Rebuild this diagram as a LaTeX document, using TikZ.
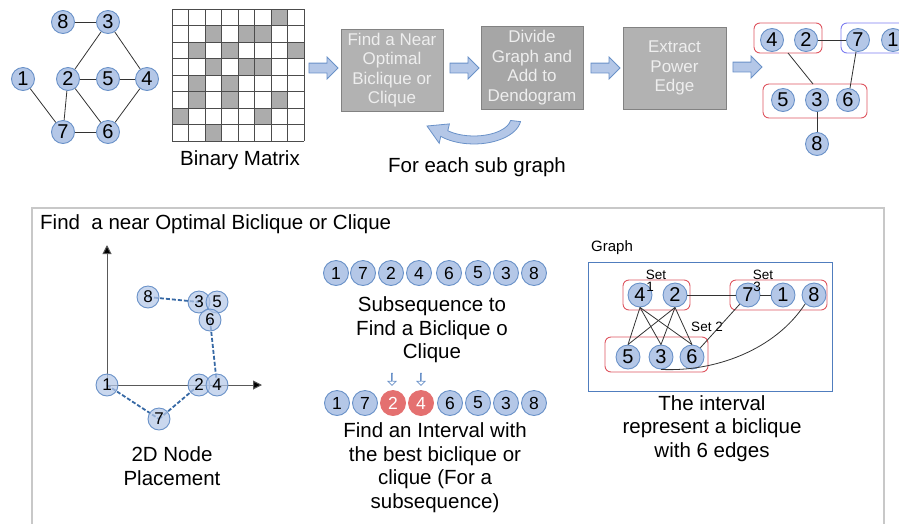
\documentclass[tikz,border=0pt]{standalone}
\usepackage{fontspec}
\setmainfont{Liberation Sans}
\usetikzlibrary{arrows.meta,shapes.arrows}

\definecolor{nodefill}{RGB}{180,199,231}
\definecolor{nodeline}{RGB}{105,145,200}
\definecolor{boxgray}{RGB}{178,178,178}
\definecolor{boxgraydk}{RGB}{166,166,166}
\definecolor{boxedge}{RGB}{130,130,130}
\definecolor{boxtext}{RGB}{238,238,238}
\definecolor{setred}{RGB}{222,85,95}
\definecolor{setblue}{RGB}{125,125,240}
\definecolor{dashblue}{RGB}{55,105,165}
\definecolor{hired}{RGB}{228,112,112}
\definecolor{framegray}{RGB}{200,200,200}
\definecolor{graphblue}{RGB}{80,125,190}
\definecolor{cellgray}{RGB}{172,172,172}

\tikzset{
  vtx/.style={circle, draw=nodeline, fill=nodefill, line width=0.9pt,
    minimum size=23pt, inner sep=0pt, font=\fontsize{20}{20}\selectfont},
  seqv/.style={vtx, minimum size=25pt, font=\fontsize{17.5}{17.5}\selectfont},
  hiv/.style={seqv, draw=hired, fill=hired, text=white},
  gv/.style={vtx, minimum size=24pt},
  plv/.style={vtx, minimum size=22pt, fill opacity=0.72, text opacity=1,
    font=\fontsize{17}{17}\selectfont},
  edge/.style={draw=black!80, line width=0.8pt},
  pledge/.style={draw=dashblue, line width=1.8pt, dash pattern=on 4pt off 2pt},
  stepbox/.style={rectangle, draw=boxedge, line width=0.9pt, fill=boxgray,
    text=boxtext, align=center, inner sep=0pt,
    font=\fontsize{17}{19.5}\selectfont},
  blockarr/.style={single arrow, draw=nodeline, fill=nodefill, line width=0.8pt,
    minimum height=29pt, minimum width=20pt, inner xsep=0pt, inner ysep=4.5pt,
    single arrow head extend=6pt},
  downarr/.style={single arrow, draw=nodeline, fill=white, line width=0.7pt,
    minimum height=12pt, minimum width=8pt, inner xsep=0pt, inner ysep=1.5pt,
    single arrow head extend=2pt, shape border rotate=270},
  setbox/.style={rectangle, rounded corners=6pt, draw=setred, line width=0.9pt},
  setboxb/.style={rectangle, rounded corners=6pt, draw=setblue, line width=0.9pt},
  caption/.style={align=center, font=\fontsize{20.5}{23.5}\selectfont},
  small/.style={font=\fontsize{13.5}{13.5}\selectfont, inner sep=0pt},
}

\begin{document}
\begin{tikzpicture}[x=1pt,y=-1pt]
\useasboundingbox (0,0) rectangle (899,523);

% ---------- input graph ----------
\foreach \n/\x/\y in {8/63/22, 3/108/22, 1/23/79, 2/68/79, 5/108/79,
                      4/147/79, 7/63/132, 6/108/132}
  \node[vtx] (a\n) at (\x,\y) {\n};
\foreach \p/\q in {8/3, 3/2, 3/4, 1/7, 2/5, 5/4, 2/7, 2/6, 4/6, 7/6}
  \draw[edge] (a\p) -- (a\q);

% ---------- binary matrix ----------
\coordinate (mat) at (172,9);
\foreach \r/\c in {0/6, 1/2, 1/4, 1/5, 2/1, 2/3, 2/7, 3/2, 3/4, 3/5,
                   4/1, 4/3, 5/1, 5/3, 5/6, 6/0, 6/5, 7/2}
  \fill[cellgray] (172+\c*16.5,9+\r*16.5) rectangle ++(16.5,16.5);
\foreach \i in {0,...,8} {
  \draw[black!70, line width=0.9pt] (172+\i*16.5,9) -- (172+\i*16.5,141);
  \draw[black!70, line width=0.9pt] (172,9+\i*16.5) -- (304,9+\i*16.5);
}
\node[caption] (matlabel) at (240,160) {Binary Matrix};

% ---------- pipeline ----------
\node[blockarr] (ar1) at (321,68) {};
\node[stepbox, minimum width=102pt, minimum height=82pt] (b1) at (392,70)
  {Find a Near\\Optimal\\Biclique or\\Clique};
\node[blockarr] (ar2) at (462,68) {};
\node[stepbox, fill=boxgraydk, minimum width=102pt, minimum height=83pt] (b2) at (532,67.5)
  {Divide\\Graph and\\Add to\\Dendogram};
\node[blockarr] (ar3) at (603,68) {};
\node[stepbox, minimum width=103pt, minimum height=82pt] (b3) at (674.5,68)
  {Extract\\Power\\Edge};
\node[blockarr] (ar4) at (745,67) {};

% loop-back arrow under the boxes
\path[fill=nodefill, draw=nodeline, line width=0.8pt]
  (520.5,121.6) arc[start angle=-8, end angle=-135, x radius=47pt, y radius=26pt]
  -- (439.2,143.3) -- (427,126) -- (449.4,123.9) -- (447.8,130.7)
  arc[start angle=-135, end angle=-8, x radius=37pt, y radius=18pt] -- cycle;
\node[caption] (loop) at (477,167) {For each sub graph};

% ---------- power graph ----------
\node[setbox, minimum width=68pt, minimum height=30pt] (p42) at (788,38) {};
\node[setboxb, minimum width=80pt, minimum height=30pt] (p71) at (881,38) {};
\node[setbox, minimum width=104pt, minimum height=34pt] (p536) at (815,101) {};
\foreach \n/\x/\y in {4/772/40, 2/806/40, 7/858/40, 1/893/40,
                      5/783/100, 3/817/100, 6/848/100, 8/817/144}
  \node[vtx] (p\n) at (\x,\y) {\n};
\draw[edge] (p2) -- (p7);
\draw[edge] (788,53) -- (813,84);
\draw[edge] (p7) -- (p6);
\draw[edge] (p3) -- (p8);

% ---------- detail frame ----------
\draw[framegray, line width=1.2pt] (32,208) rectangle (884,540);
\node[anchor=west, font=\fontsize{20.5}{20.5}\selectfont, inner sep=0pt] (title)
  at (40,224) {Find~ a near Optimal Biclique or Clique};

% 2D placement
\coordinate (o) at (107,385);
\coordinate (ytop) at (107,245);
\coordinate (xend) at (262,385);
\draw[black!65, line width=1pt, -{Triangle[length=9pt,width=9pt,fill=black]}] (o) -- (ytop);
\draw[black!65, line width=1pt, -{Triangle[length=9pt,width=9pt,fill=black]}] (o) -- (xend);
\draw[pledge] (148,297) -- (199,302);
\draw[pledge] (210,320) -- (217,385);
\draw[pledge] (107,385) -- (159,419);
\draw[pledge] (159,419) -- (199,385);
\foreach \n/\x/\y in {8/148/297, 3/199/302, 5/217/302, 6/210/320,
                      1/107/385, 2/199/385, 4/217/385, 7/159/419}
  \node[plv] (l\n) at (\x,\y) {\n};
\node[caption] (placecap) at (172,466) {2D Node\\Placement};

% ordering
\foreach \n/\x in {1/336, 7/363, 2/391, 4/419, 6/449, 5/478, 3/506, 8/534}
  \node[seqv] (s\n) at (\x,273) {\n};
\node[caption] (subcap) at (432,330) {Subsequence to\\Find a Biclique o\\Clique};
\node[downarr] (d1) at (392,379) {};
\node[downarr] (d2) at (421,379) {};
\foreach \n/\x in {1/337, 7/365}
  \node[seqv] (t\n) at (\x,403) {\n};
\node[hiv] (t2) at (393,403) {2};
\node[hiv] (t4) at (421,403) {4};
\foreach \n/\x in {6/450, 5/478, 3/506, 8/534}
  \node[seqv] (t\n) at (\x,403) {\n};
\node[caption] (intcap) at (435,467.5)
  {Find an Interval with\\the best biclique or\\clique (For a\\subsequence)};

% resulting biclique
\node[anchor=west, font=\fontsize{15}{15}\selectfont, inner sep=0pt] (glabel)
  at (591,248) {Graph};
\draw[graphblue, line width=0.9pt] (588,262) rectangle (832,391);
\node[setbox, minimum width=67pt, minimum height=30pt] (g1set) at (656.5,295) {};
\node[setbox, minimum width=97pt, minimum height=30pt] (g3set) at (778.5,295) {};
\node[setbox, minimum width=103pt, minimum height=35pt] (g2set) at (656.5,354.5) {};
\node[small] (set1) at (656,275) {Set};
\node[small] (set3) at (763,275) {Set};
\node[small] (set2) at (707,327) {Set 2};
\foreach \n/\x/\y in {4/640/295, 2/675/295, 7/748/295, 1/783/295, 8/814/295,
                      5/628/357, 3/661/357, 6/692/357}
  \node[gv] (g\n) at (\x,\y) {\n};
\node[small] (set1n) at (650,287) {1};
\node[small] (set3n) at (757,287) {3};
\foreach \p in {4,2}
  \foreach \q in {5,3,6}
    \draw[edge] (g\p.south) -- (g\q.north);
\draw[edge] (g2) -- (g7);
\draw[edge] (g7) -- (g1);
\draw[edge] (g6) -- (g7);
\draw[edge] (g8.south west) .. controls (775,350) and (715,372) .. (g3.south);
\node[caption] (bicap) at (712,428.5) {The interval\\represent a biclique\\with 6 edges};
\end{tikzpicture}
\end{document}
